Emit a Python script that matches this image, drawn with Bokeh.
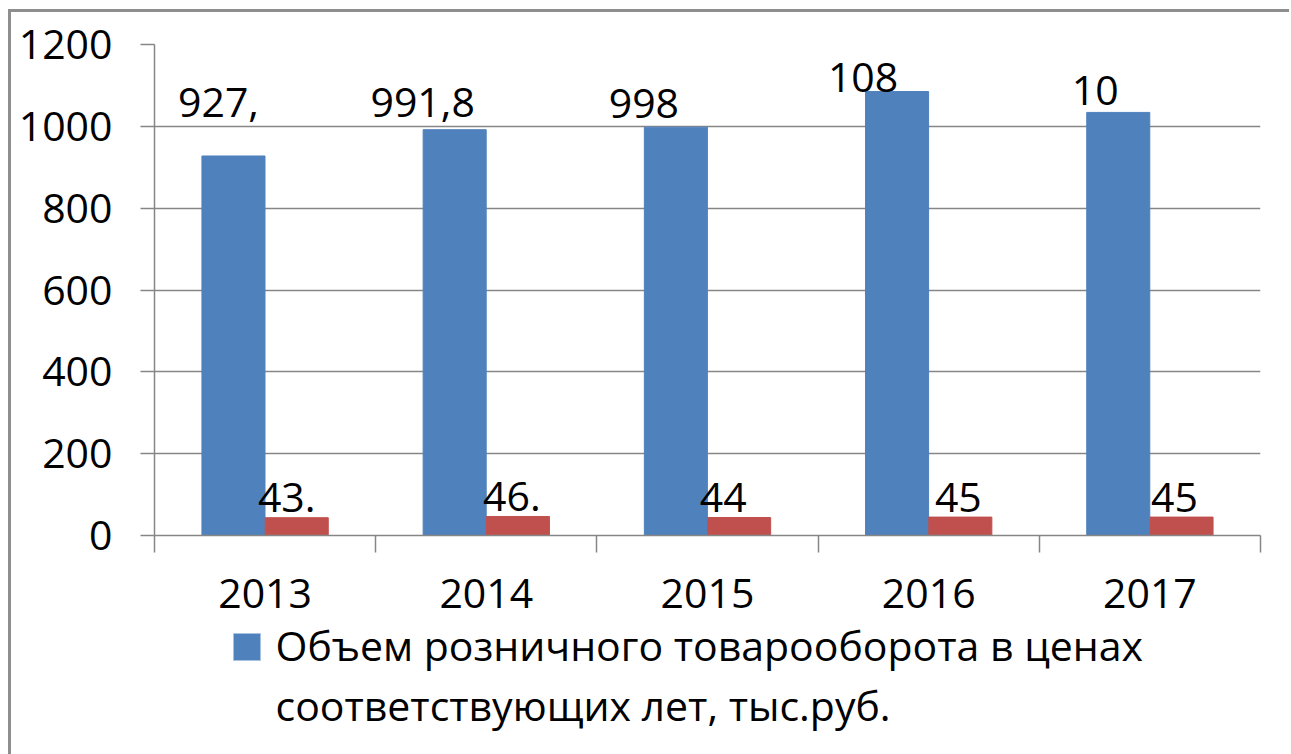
from bokeh.plotting import figure
from bokeh.layouts import column
from bokeh.models import (Range1d, FixedTicker, LinearAxis, Grid)
from bokeh.core.properties import value
from bokeh.embed import file_html
from bokeh.resources import INLINE

# ---- data ----
years = ["2013", "2014", "2015", "2016", "2017"]
retail = [927.5, 991.8, 998.0, 1085.0, 1034.0]
catering = [43.5, 46.5, 44.0, 45.0, 45.0]
retail_labels = ["927,", "991,8", "998", "108", "10"]
catering_labels = ["43.", "46.", "44", "45", "45"]
y_ticks = [0, 200, 400, 600, 800, 1000, 1200]
legend_line1 = "Объем розничного товарооборота в ценах"
legend_line2 = "соответствующих лет, тыс.руб."

# ---- style / layout ----
FONT = "Open Sans"
FS = "41px"
GRAY = "#868686"
BLUE = "#4f81bd"
RED = "#c0504d"
W = 1278
H1 = 612
H2 = 130
OVER = 24  # legend panel overlaps the bottom of the chart by this many px
BL, BR = 143, 29
BAR_W = 0.285
DODGE = 0.143
retail_dx = [-15, -32, -32, -34, -23]
retail_dy = [-53, -27, -24, -14, -22]
catering_dx = [-10, -6, -16, -2, -7]
catering_dy = [-20, -20, -20, -20, -20]

n = len(years)
p = figure(width=W, height=H1, output_backend="svg", toolbar_location=None,
           x_range=Range1d(0, n), y_range=Range1d(0, 1200),
           x_axis_location=None, y_axis_location=None,
           min_border_left=BL, min_border_right=BR,
           min_border_top=32, min_border_bottom=89)
p.grid.visible = False
p.outline_line_color = None
p.background_fill_color = "white"
p.border_fill_color = "white"

yaxis = LinearAxis(ticker=FixedTicker(ticks=y_ticks),
                   axis_line_color=GRAY, axis_line_width=1.5,
                   major_tick_out=14, major_tick_in=0,
                   major_tick_line_color=GRAY, major_tick_line_width=1.5,
                   minor_tick_line_color=None,
                   major_label_text_font=FONT, major_label_text_font_size=FS,
                   major_label_text_color="black", major_label_standoff=28)
p.add_layout(yaxis, "left")
p.add_layout(Grid(dimension=1, ticker=yaxis.ticker, grid_line_color=GRAY,
                  grid_line_width=1.5))

xaxis_ticks = LinearAxis(ticker=FixedTicker(ticks=list(range(n + 1))),
                         axis_line_color=GRAY, axis_line_width=1.5,
                         major_tick_out=17, major_tick_in=0,
                         major_tick_line_color=GRAY, major_tick_line_width=1.5,
                         minor_tick_line_color=None,
                         major_label_text_font_size="0px",
                         major_label_text_alpha=0, major_label_standoff=0)
p.add_layout(xaxis_ticks, "below")

centers = [i + 0.5 for i in range(n)]
xaxis_labels = LinearAxis(ticker=FixedTicker(ticks=centers),
                          major_label_overrides={c: y for c, y in zip(centers, years)},
                          axis_line_color=None, major_tick_line_color=None,
                          minor_tick_line_color=None,
                          major_label_text_font=FONT, major_label_text_font_size=FS,
                          major_label_text_color="black", major_label_standoff=20)
p.add_layout(xaxis_labels, "below")

x_retail = [c - DODGE for c in centers]
x_catering = [c + DODGE for c in centers]
p.vbar(x=x_retail, top=retail, width=BAR_W, fill_color=BLUE, line_color=BLUE)
p.vbar(x=x_catering, top=catering, width=BAR_W, fill_color=RED, line_color=RED)

p.text(x=x_retail, y=retail, text=retail_labels, x_offset=retail_dx, y_offset=retail_dy,
       text_align="center", text_baseline="alphabetic",
       text_font=value(FONT), text_font_size=FS, text_color="black")
p.text(x=x_catering, y=catering, text=catering_labels, x_offset=catering_dx, y_offset=catering_dy,
       text_align="center", text_baseline="alphabetic",
       text_font=value(FONT), text_font_size=FS, text_color="black")

# ---- legend panel (canvas pixel coordinates, y downwards) ----
lg = figure(width=W, height=H2 + OVER, output_backend="svg", toolbar_location=None,
            x_range=Range1d(BL, W - BR), y_range=Range1d(H2, -OVER),
            x_axis_location=None, y_axis_location=None,
            min_border_left=BL, min_border_right=BR,
            min_border_top=0, min_border_bottom=0,
            styles={"margin-top": f"-{OVER}px"})
lg.grid.visible = False
lg.outline_line_color = None
lg.background_fill_alpha = 0
lg.border_fill_alpha = 0
lg.rect(x=[235.5], y=[22.5], width=27, height=27, fill_color=BLUE, line_color="#a9c2e0",
        line_width=1)
lg.text(x=[264, 264], y=[20, 80], text=[legend_line1, legend_line2],
        text_align="left", text_baseline="alphabetic",
        text_font=value(FONT), text_font_size=FS, text_color="black")

layout = column(p, lg, spacing=0,
                styles={"margin-left": "8px", "margin-top": "9px",
                        "border-left": "3px solid #8e8e8e",
                        "border-top": "3px solid #8e8e8e"})

open("out.html", "w").write(file_html(layout, INLINE))
